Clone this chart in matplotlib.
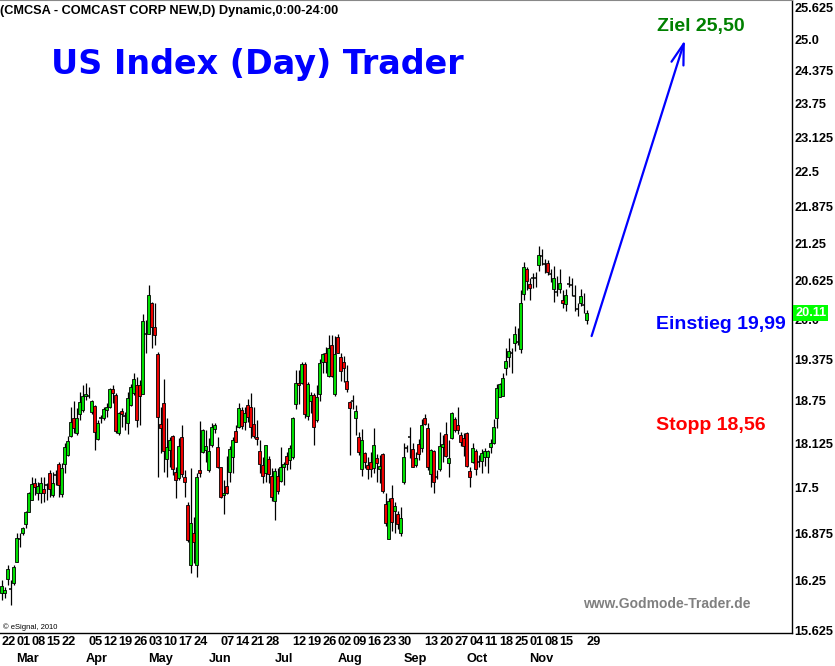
import matplotlib
matplotlib.use('Agg')
import matplotlib.pyplot as plt
import matplotlib.transforms as mtransforms
from matplotlib.ticker import FixedLocator, NullLocator, FixedFormatter
import numpy as np
import pandas as pd

plt.rcParams['font.family'] = ['Liberation Sans', 'DejaVu Sans']

# ---------------- data (CMCSA daily) ----------------
holidays = ['2010-04-02', '2010-05-31', '2010-07-05', '2010-09-06', '2010-11-25']

opens = [16.09, 16.09, 16.27, 16.14, 16.22, 16.49, 16.80, 16.88, 17.00, 17.16,
         17.33, 17.56, 17.43, 17.42, 17.48, 17.53, 17.70, 17.39, 17.68, 17.83,
         17.41, 17.83, 17.96, 18.23, 18.49, 18.27, 18.55, 18.61, 18.82, 18.82,
         18.58, 18.67, 18.19, 18.49, 18.50, 18.61, 18.65, 18.93, 18.84, 18.28,
         18.60, 18.53, 18.42, 18.69, 18.87, 18.99, 18.99, 18.85, 19.78, 19.78,
         20.26, 19.89, 19.46, 18.40, 18.71, 17.90, 18.03, 18.23, 17.72, 17.63,
         18.22, 17.65, 17.26, 16.45, 16.88, 16.45, 17.75, 18.00, 18.03, 17.74,
         18.10, 18.34, 18.07, 17.79, 17.39, 17.52, 17.72, 17.93, 18.31, 18.36,
         18.61, 18.44, 18.69, 18.65, 18.41, 18.22, 18.02, 17.82, 17.71, 17.90,
         17.66, 17.31, 17.66, 17.59, 17.79, 17.95, 17.89, 17.93, 18.70, 19.01,
         19.02, 19.31, 18.53, 18.74, 18.84, 18.47, 18.85, 19.33, 19.47, 19.12,
         19.60, 18.85, 19.72, 19.41, 19.33, 19.05, 18.73, 18.74, 18.49, 18.22,
         17.76, 17.98, 17.82, 17.86, 17.78, 17.92, 17.76, 17.97, 17.27, 16.80,
         17.36, 17.17, 17.14, 16.88, 17.57, 18.06, 18.22, 18.04, 17.82, 18.12,
         18.06, 18.49, 18.35, 17.69, 18.02, 17.64, 17.76, 18.07, 18.26, 17.85,
         18.20, 18.48, 18.39, 18.25, 18.20, 18.28, 17.73, 17.86, 18.02, 17.86,
         17.87, 17.93, 17.93, 18.07, 18.13, 18.49, 18.81, 18.82, 19.25, 19.42,
         19.48, 19.63, 19.64, 19.54, 20.41, 20.82, 20.57, 20.67, 20.68, 20.89,
         21.04, 20.90, 20.92, 20.74, 20.49, 20.45, 20.49, 20.32, 20.25, 20.57,
         20.56, 20.38, 20.17, 20.27, 20.23, 19.99]

highs = [16.26, 16.17, 16.45, 16.26, 16.45, 16.88, 16.88, 16.96, 17.18, 17.44,
         17.65, 17.63, 17.58, 17.65, 17.65, 17.56, 17.75, 17.72, 17.75, 17.86,
         17.85, 18.13, 18.23, 18.66, 18.74, 18.64, 18.88, 18.99, 19.02, 18.96,
         18.76, 18.69, 18.47, 18.54, 18.66, 18.71, 18.94, 18.99, 18.86, 18.58,
         18.64, 18.58, 18.88, 19.00, 19.17, 19.11, 19.06, 20.09, 19.99, 20.56,
         20.29, 20.27, 19.49, 18.66, 19.08, 18.49, 18.22, 18.25, 17.79, 18.20,
         18.39, 17.75, 17.30, 17.77, 17.10, 17.70, 18.45, 18.33, 18.32, 18.20,
         18.42, 18.42, 18.22, 17.79, 17.61, 17.95, 18.09, 18.22, 18.39, 18.71,
         18.65, 18.66, 18.78, 18.87, 18.66, 18.47, 18.17, 17.93, 18.10, 17.95,
         17.77, 17.77, 17.77, 18.07, 17.86, 18.00, 18.10, 18.51, 19.21, 19.21,
         19.33, 19.33, 19.03, 18.88, 18.86, 18.99, 19.39, 19.48, 19.57, 19.76,
         19.76, 19.74, 19.78, 19.48, 19.43, 19.29, 18.74, 18.84, 18.69, 18.29,
         18.33, 18.00, 17.93, 18.00, 18.35, 17.97, 17.96, 17.99, 17.42, 17.35,
         17.53, 17.30, 17.17, 17.23, 18.13, 18.10, 18.36, 18.13, 18.00, 18.19,
         18.48, 18.56, 18.42, 18.04, 18.03, 17.75, 18.29, 18.25, 18.44, 18.17,
         18.58, 18.51, 18.66, 18.29, 18.27, 18.29, 17.79, 18.13, 18.04, 17.96,
         18.04, 18.06, 18.03, 18.19, 18.48, 19.00, 19.02, 19.17, 19.56, 19.71,
         19.56, 19.90, 19.87, 20.47, 20.94, 20.86, 20.68, 20.75, 20.77, 21.20,
         21.16, 20.98, 20.97, 20.82, 20.87, 20.70, 20.82, 20.48, 20.49, 20.70,
         20.68, 20.56, 20.26, 20.49, 20.43, 20.15]

lows = [16.00, 16.03, 16.20, 15.94, 16.20, 16.49, 16.69, 16.85, 16.95, 17.16,
        17.33, 17.40, 17.33, 17.28, 17.30, 17.33, 17.37, 17.37, 17.54, 17.37,
        17.37, 17.70, 17.95, 18.22, 18.27, 18.25, 18.47, 18.58, 18.76, 18.79,
        18.56, 18.03, 18.17, 18.42, 18.47, 18.51, 18.64, 18.71, 18.27, 18.25,
        18.37, 18.32, 18.26, 18.67, 18.84, 18.37, 18.39, 18.85, 19.47, 19.78,
        19.55, 19.60, 17.64, 17.99, 17.72, 17.65, 17.79, 17.68, 17.36, 17.61,
        17.65, 17.37, 16.76, 16.35, 16.48, 16.30, 17.64, 17.99, 17.86, 17.72,
        18.07, 18.27, 17.77, 17.36, 17.14, 17.41, 17.58, 17.70, 18.14, 18.35,
        18.33, 18.32, 18.44, 18.20, 18.20, 18.10, 17.71, 17.56, 17.58, 17.56,
        17.31, 17.05, 17.41, 17.58, 17.53, 17.75, 17.76, 17.90, 18.63, 18.70,
        19.00, 18.49, 18.47, 18.57, 18.10, 18.44, 18.75, 19.17, 19.17, 19.11,
        19.11, 18.82, 19.47, 19.04, 19.03, 18.88, 17.96, 18.63, 18.25, 17.96,
        17.66, 17.77, 17.62, 17.65, 17.71, 17.58, 17.56, 17.42, 16.97, 16.80,
        16.90, 16.88, 16.93, 16.84, 17.55, 18.00, 17.92, 17.79, 17.79, 17.89,
        18.00, 18.39, 17.75, 17.51, 17.42, 17.62, 17.73, 17.86, 17.93, 17.64,
        18.19, 18.29, 18.26, 18.09, 17.95, 17.79, 17.51, 17.85, 17.68, 17.79,
        17.70, 17.80, 17.71, 17.99, 18.12, 18.35, 18.80, 18.82, 19.14, 19.26,
        19.17, 19.51, 19.60, 19.48, 20.32, 20.48, 20.32, 20.51, 20.52, 20.79,
        20.89, 20.75, 20.72, 20.61, 20.29, 20.38, 20.43, 20.18, 20.13, 20.52,
        20.38, 20.13, 20.06, 20.22, 20.11, 19.93]

closes = [16.18, 16.13, 16.40, 16.14, 16.43, 16.81, 16.80, 16.94, 17.16, 17.42,
          17.55, 17.51, 17.52, 17.56, 17.42, 17.53, 17.48, 17.56, 17.68, 17.54,
          17.77, 18.08, 18.16, 18.44, 18.35, 18.49, 18.73, 18.82, 18.85, 18.82,
          18.74, 18.29, 18.42, 18.49, 18.63, 18.65, 18.93, 18.86, 18.31, 18.57,
          18.55, 18.53, 18.79, 18.95, 19.07, 18.47, 18.82, 19.98, 19.78, 20.39,
          19.89, 19.76, 18.51, 18.35, 18.02, 18.07, 18.17, 17.76, 17.61, 18.09,
          17.69, 17.57, 16.79, 17.01, 16.76, 17.65, 17.71, 18.32, 18.09, 18.02,
          18.37, 18.39, 17.79, 17.37, 17.42, 17.42, 18.05, 18.17, 18.15, 18.64,
          18.38, 18.57, 18.51, 18.36, 18.23, 18.19, 17.83, 17.66, 18.10, 17.69,
          17.37, 17.73, 17.45, 17.79, 17.83, 17.83, 18.06, 18.49, 19.01, 18.99,
          19.31, 18.55, 19.00, 18.84, 18.36, 18.80, 19.32, 19.46, 19.33, 19.55,
          19.12, 19.46, 19.48, 19.20, 19.24, 18.93, 18.64, 18.74, 18.60, 18.00,
          18.17, 17.86, 17.76, 17.76, 18.10, 17.85, 17.80, 17.45, 17.01, 17.31,
          17.03, 17.24, 17.00, 17.08, 17.93, 18.06, 18.22, 17.79, 17.92, 17.97,
          18.39, 18.41, 17.79, 18.03, 17.58, 17.64, 18.09, 18.12, 17.95, 17.92,
          18.57, 18.32, 18.32, 18.15, 18.09, 17.80, 17.65, 18.06, 17.76, 17.86,
          17.99, 18.02, 18.02, 18.13, 18.37, 18.94, 19.00, 19.10, 19.36, 19.50,
          19.48, 19.77, 19.64, 20.26, 20.85, 20.63, 20.51, 20.67, 20.68, 21.06,
          21.04, 20.90, 20.77, 20.74, 20.67, 20.45, 20.59, 20.27, 20.39, 20.57,
          20.56, 20.38, 20.17, 20.38, 20.23, 20.11]

day_tick_dates = ['2010-02-22', '2010-03-01', '2010-03-08', '2010-03-15', '2010-03-22',
                  '2010-04-05', '2010-04-12', '2010-04-19', '2010-04-26',
                  '2010-05-03', '2010-05-10', '2010-05-17', '2010-05-24',
                  '2010-06-07', '2010-06-14', '2010-06-21', '2010-06-28',
                  '2010-07-12', '2010-07-19', '2010-07-26',
                  '2010-08-02', '2010-08-09', '2010-08-16', '2010-08-23', '2010-08-30',
                  '2010-09-13', '2010-09-20', '2010-09-27',
                  '2010-10-04', '2010-10-11', '2010-10-18', '2010-10-25',
                  '2010-11-01', '2010-11-08', '2010-11-15', '2010-11-29']
month_names = ['Mar', 'Apr', 'May', 'Jun', 'Jul', 'Aug', 'Sep', 'Oct', 'Nov']

y_ticks = [15.625, 16.25, 16.875, 17.5, 18.125, 18.75, 19.375, 20.0, 20.625,
           21.25, 21.875, 22.5, 23.125, 23.75, 24.375, 25.0, 25.625]
y_labels = ['15.625', '16.25', '16.875', '17.5', '18.125', '18.75', '19.375', '20.0',
            '20.625', '21.25', '21.875', '22.5', '23.125', '23.75', '24.375', '25.0', '25.625']

last_price = 20.11
entry_label = 'Einstieg 19,99'
stop_label = 'Stopp 18,56'
target_label = 'Ziel 25,50'
arrow_start = (196.7, 19.74)
arrow_end = (227.8, 24.98)

# ---------------- figure ----------------
W, H = 835, 666
fig = plt.figure(figsize=(W / 100, H / 100), dpi=100)
fig.patch.set_facecolor('white')
ax = fig.add_axes([0, 1 - 633 / H, 792 / W, 633 / H])
ax.set_facecolor('white')

dates = pd.bdate_range('2010-02-22', '2010-11-29')
dates = dates[~dates.isin(pd.to_datetime(holidays))]
pos = {d: i for i, d in enumerate(dates)}

o = np.array(opens)
h = np.array(highs)
l = np.array(lows)
c = np.array(closes)
x = np.arange(len(c))

GREEN = '#00E000'
RED = '#EE0000'

ax.set_yscale('log')
ax.vlines(x, l, h, color='black', lw=0.9, zorder=2)
up = c > o
dn = c < o
fl = c == o
ax.bar(x[up], (c - o)[up], bottom=o[up], width=0.95, color=GREEN,
       edgecolor='black', linewidth=0.6, zorder=3)
ax.bar(x[dn], (o - c)[dn], bottom=c[dn], width=0.95, color=RED,
       edgecolor='black', linewidth=0.6, zorder=3)
ax.hlines(o[fl], x[fl] - 0.55, x[fl] + 0.55, color='black', lw=1.1, zorder=3)

ax.set_xlim(-0.5, 263.5)
ax.set_ylim(15.588, 25.788)

# spines
ax.spines['left'].set_visible(False)
ax.spines['top'].set_color('#888888')
ax.spines['top'].set_linestyle((0, (1, 1)))
ax.spines['top'].set_linewidth(0.8)
ax.spines['right'].set_color('black')
ax.spines['right'].set_linewidth(1.0)
ax.spines['bottom'].set_color('black')
ax.spines['bottom'].set_linewidth(1.0)

# y axis
ax.yaxis.tick_right()
ax.yaxis.set_major_locator(FixedLocator(y_ticks))
ax.yaxis.set_major_formatter(FixedFormatter(y_labels))
ax.yaxis.set_minor_locator(NullLocator())
ax.tick_params(axis='y', which='both', length=0, pad=1.5, labelsize=9.2)
for t in ax.get_yticklabels():
    t.set_fontweight('bold')

# x axis: day labels (major) and month labels (minor)
ax.xaxis.remove_overlapping_locs = False
day_pos = [pos[pd.Timestamp(d)] for d in day_tick_dates]
day_lab = [d[-2:] for d in day_tick_dates]
ax.xaxis.set_major_locator(FixedLocator(day_pos))
ax.xaxis.set_major_formatter(FixedFormatter(day_lab))
month_pos = []
for m in range(3, 12):
    first = [i for i, d in enumerate(dates) if d.month == m][0]
    month_pos.append(first)
ax.xaxis.set_minor_locator(FixedLocator(month_pos))
ax.xaxis.set_minor_formatter(FixedFormatter(month_names))
ax.tick_params(axis='x', which='major', length=0, pad=2.2, labelsize=9.2)
ax.tick_params(axis='x', which='minor', length=0, pad=14.6, labelsize=9.2)
for t in ax.get_xticklabels(which='both'):
    t.set_fontweight('bold')
    t.set_horizontalalignment('left')

# last price box
trans = mtransforms.blended_transform_factory(ax.transAxes, ax.transData)
ax.text(1 + 3 / 792, last_price, f'{last_price:.2f}', transform=trans, ha='left', va='center',
        color='white', fontsize=9.2, fontweight='bold', zorder=10, clip_on=False,
        bbox=dict(boxstyle='square,pad=0.15', fc='#00FF00', ec='none'))

# target arrow
ax.annotate('', xy=arrow_end, xytext=arrow_start,
            arrowprops=dict(arrowstyle='->,head_length=1.5,head_width=0.45',
                            color='#0000FF', lw=1.6, shrinkA=0, shrinkB=0),
            zorder=6)

def ftext(px, py, s, **kw):
    fig.text(px / W, 1 - py / H, s, **kw)

ftext(0, 14, '(CMCSA - COMCAST CORP NEW,D) Dynamic,0:00-24:00', fontsize=9.2,
      fontweight='bold', color='black', va='baseline', ha='left')
ftext(51, 74, 'US Index (Day) Trader', fontsize=24, fontweight='bold', color='#0000FF',
      va='baseline', ha='left', family='DejaVu Sans')
ftext(657, 31, target_label, fontsize=14, fontweight='bold', color='#008000',
      va='baseline', ha='left')
ftext(656, 329, entry_label, fontsize=14, fontweight='bold', color='#0000FF',
      va='baseline', ha='left')
ftext(656, 430, stop_label, fontsize=14, fontweight='bold', color='#FF0000',
      va='baseline', ha='left')
ftext(583, 608, 'www.Godmode-Trader.de', fontsize=10, fontweight='bold', color='#808080',
      va='baseline', ha='left')
ftext(3, 629, '\u00a9 eSignal, 2010', fontsize=5.5, color='black', va='baseline', ha='left')

fig.savefig('out.png', dpi=100, facecolor='white')
